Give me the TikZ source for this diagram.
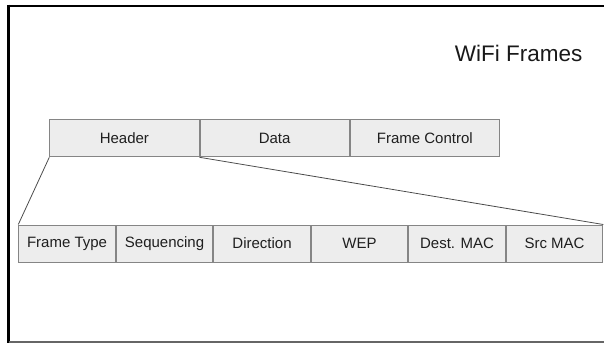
\documentclass[tikz,border=0pt]{standalone}
\usepackage{fontspec}
\setmainfont{Liberation Sans}
\begin{document}
\begin{tikzpicture}[x=1pt,y=-1pt,
  field/.style={draw=black!48,fill=black!7,line width=1pt,minimum height=37pt,inner sep=0pt,anchor=north west,font=\fontsize{15}{17}\selectfont,text=black!88},
  topfield/.style={field,minimum width=149.2pt},
  subfield/.style={field,minimum width=96.5pt},
  zoomline/.style={draw=black!70,line width=0.8pt}]
\useasboundingbox (0,0) rectangle (604,343);
% slide frame
\draw[black,line width=2pt] (7,6) -- (604,6);
\draw[black,line width=3pt] (8.5,4.5) -- (8.5,343);
\draw[black!60,line width=1.5pt] (8.5,341.8) -- (604,341.8);
% title
\node[anchor=base east,font=\fontsize{22.5}{26}\selectfont,text=black!90,inner sep=0pt] (title) at (582.5,61.7) {WiFi Frames};
% top row
\node[topfield] (header) at (49.3,119.3) {Header};
\node[topfield] (data) at (header.north east) {Data};
\node[topfield] (fc) at (data.north east) {Frame Control};
% bottom row
\node[subfield] (ft) at (18.3,224.5) {Frame Type};
\node[subfield] (seq) at (ft.north east) {Sequencing};
\node[subfield] (dir) at (seq.north east) {Direction};
\node[subfield] (wep) at (dir.north east) {WEP};
\node[subfield] (dmac) at (wep.north east) {Dest. MAC};
\node[subfield] (smac) at (dmac.north east) {Src MAC};
% zoom lines
\draw[zoomline] (header.south west) -- (ft.north west);
\draw[zoomline] (header.south east) -- (smac.north east);
\end{tikzpicture}
\end{document}
